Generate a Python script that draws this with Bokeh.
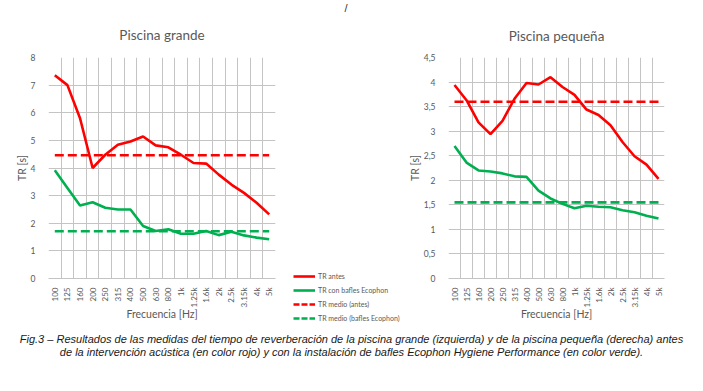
import math
from bokeh.plotting import figure
from bokeh.layouts import column, row
from bokeh.models import (Range1d, FixedTicker, CustomJSTickFormatter, Legend, LegendItem,
                          Label, ColumnDataSource, Spacer)
from bokeh.embed import file_html
from bokeh.resources import INLINE

freqs = ["100", "125", "160", "200", "250", "315", "400", "500", "630", "800",
         "1k", "1.25k", "1.6k", "2k", "2.5k", "3.15k", "4k", "5k"]

grande_antes = [7.36, 7.0, 5.8, 4.0, 4.48, 4.84, 4.96, 5.14, 4.82, 4.75,
                4.48, 4.18, 4.16, 3.76, 3.4, 3.1, 2.74, 2.32]
grande_bafles = [3.92, 3.28, 2.64, 2.76, 2.56, 2.5, 2.5, 1.9, 1.72, 1.78,
                 1.62, 1.62, 1.72, 1.57, 1.69, 1.56, 1.48, 1.42]
grande_medio_antes = 4.46
grande_medio_bafles = 1.71

pequena_antes = [3.94, 3.63, 3.18, 2.94, 3.21, 3.66, 3.98, 3.95, 4.1, 3.9,
                 3.74, 3.44, 3.33, 3.12, 2.78, 2.49, 2.32, 2.03]
pequena_bafles = [2.7, 2.36, 2.2, 2.18, 2.14, 2.08, 2.07, 1.79, 1.63, 1.52,
                  1.43, 1.48, 1.46, 1.45, 1.39, 1.35, 1.28, 1.22]
pequena_medio_antes = 3.6
pequena_medio_bafles = 1.55

legend_labels = ["TR antes", "TR con bafles Ecophon", "TR medio (antes)", "TR medio (bafles Ecophon)"]

RED = "#FF0000"
GREEN = "#00B050"
GRID = "#C4C4C4"
TXT = "#595959"
FONT = "Lato"

caption_1 = ("Fig.3 \u2013 Resultados de las medidas del tiempo de reverberaci\u00f3n de la piscina grande "
             "(izquierda) y de la piscina peque\u00f1a (derecha) antes")
caption_2 = ("de la intervenci\u00f3n ac\u00fastica (en color rojo) y con la instalaci\u00f3n de bafles "
             "Ecophon Hygiene Performance (en color verde).")

TOP = 57      # frame top
FRAME_H = 221
BOTTOM = 47   # space below frame
FIG_H = TOP + FRAME_H + BOTTOM


def make_chart(title, antes, bafles, m_antes, m_bafles, ymax, ystep, frame_w, bl, br, comma, standoff):
    n = len(freqs)
    xs = list(range(n))
    p = figure(frame_width=frame_w, frame_height=FRAME_H, output_backend="svg", toolbar_location=None,
               x_range=Range1d(-0.5, n - 0.5), y_range=Range1d(0, ymax),
               min_border_left=bl, min_border_right=br, min_border_top=TOP, min_border_bottom=BOTTOM)
    p.title.text = title
    p.title.align = "center"
    p.title.text_font = FONT
    p.title.text_font_size = "13.5px"
    p.title.text_font_style = "normal"
    p.title.text_color = TXT
    p.title.standoff = standoff
    p.outline_line_color = None

    src = ColumnDataSource(dict(x=xs, antes=antes, bafles=bafles,
                                m_antes=[m_antes] * n, m_bafles=[m_bafles] * n))
    p.line("x", "antes", source=src, color=RED, line_width=2.6)
    p.line("x", "bafles", source=src, color=GREEN, line_width=2.6)
    p.line("x", "m_antes", source=src, color=RED, line_width=2.6, line_dash="9 4")
    p.line("x", "m_bafles", source=src, color=GREEN, line_width=2.6, line_dash="9 4")

    p.xaxis.ticker = FixedTicker(ticks=xs)
    p.xaxis.major_label_overrides = {i: f for i, f in enumerate(freqs)}
    p.xaxis.major_label_orientation = math.pi / 2
    p.xaxis.axis_label = "Frecuencia [Hz]"
    p.yaxis.axis_label = "TR [s]"
    nt = int(round(ymax / ystep))
    p.yaxis.ticker = FixedTicker(ticks=[i * ystep for i in range(nt + 1)])
    if comma:
        p.yaxis.formatter = CustomJSTickFormatter(
            code="return (Math.abs(tick % 1) > 1e-9 ? tick.toFixed(1) : tick.toFixed(0)).replace('.', ',');")
    else:
        p.yaxis.formatter = CustomJSTickFormatter(code="return tick.toFixed(0);")
    for ax in (p.xaxis[0], p.yaxis[0]):
        ax.major_tick_line_color = None
        ax.minor_tick_line_color = None
        ax.major_label_text_font = FONT
        ax.major_label_text_color = TXT
        ax.axis_label_text_font = FONT
        ax.axis_label_text_font_size = "10.5px"
        ax.axis_label_text_font_style = "normal"
        ax.axis_label_text_color = TXT
    p.xaxis.major_label_text_font_size = "8px"
    p.yaxis.major_label_text_font_size = "8.5px"
    p.yaxis.axis_line_color = None
    p.xaxis.axis_line_color = GRID
    p.xaxis.major_label_standoff = 3
    p.xaxis.axis_label_standoff = -2
    p.yaxis.major_label_standoff = 7
    p.yaxis.axis_label_standoff = 0

    p.xgrid.ticker = FixedTicker(ticks=[i - 0.5 for i in range(n + 1)])
    p.xgrid.grid_line_color = GRID
    p.ygrid.grid_line_color = GRID
    return p


left = make_chart("Piscina grande", grande_antes, grande_bafles, grande_medio_antes,
                  grande_medio_bafles, 8, 1, 227, 48, 10, False, 30)
right = make_chart("Piscina peque\u00f1a", pequena_antes, pequena_bafles, pequena_medio_antes,
                   pequena_medio_bafles, 4.5, 0.5, 216, 42, 34, True, 28)


def blank_fig(w, h):
    f = figure(width=w, height=h, output_backend="svg", toolbar_location=None,
               x_range=Range1d(0, 1), y_range=Range1d(0, 1),
               x_axis_location=None, y_axis_location=None,
               min_border=0, min_border_left=0, min_border_right=0,
               min_border_top=0, min_border_bottom=0)
    f.grid.visible = False
    f.outline_line_color = None
    return f


LG_W = 120
LG_H = 58
SL_H = 14

# stray slash at the top of the page
sl = blank_fig(LG_W, SL_H)
sl.add_layout(Label(x=59, y=1, x_units="screen", y_units="screen", text="/",
                    text_font="Liberation Sans", text_font_size="11px", text_color="#333333"))

# legend panel
lg = blank_fig(LG_W, LG_H)
nan = float("nan")
r1 = lg.line(x=[nan], y=[nan], color=RED, line_width=2.6)
r2 = lg.line(x=[nan], y=[nan], color=GREEN, line_width=2.6)
r3 = lg.line(x=[nan], y=[nan], color=RED, line_width=2.6, line_dash="6 2")
r4 = lg.line(x=[nan], y=[nan], color=GREEN, line_width=2.6, line_dash="6 2")
legend = Legend(items=[LegendItem(label=l, renderers=[r]) for l, r in zip(legend_labels, [r1, r2, r3, r4])],
                location=(8, 0), orientation="vertical", border_line_color=None,
                background_fill_alpha=0, padding=0, margin=0, spacing=0,
                glyph_width=22, glyph_height=14, label_height=14, label_standoff=3,
                label_text_font=FONT, label_text_font_size="7px", label_text_color=TXT)
lg.add_layout(legend)

mid = column(sl, Spacer(width=LG_W, height=FIG_H - SL_H - LG_H), lg, spacing=0)

# caption
CAP_H = 391 - FIG_H
cap = blank_fig(695, CAP_H)
for txt, yy in ((caption_1, CAP_H - 13), (caption_2, CAP_H - 26)):
    cap.add_layout(Label(x=351, y=yy, x_units="screen", y_units="screen", text=txt,
                         text_align="center", text_baseline="middle",
                         text_font="Liberation Sans", text_font_style="italic",
                         text_font_size="11px", text_color="#1a1a1a"))

layout = column(row(left, mid, right), cap, spacing=0)
open("out.html", "w").write(file_html(layout, INLINE))
